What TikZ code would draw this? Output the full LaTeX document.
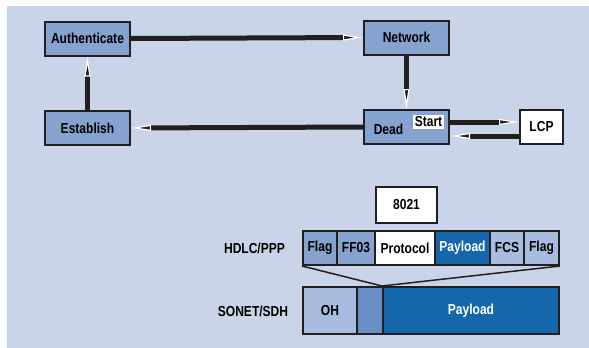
\documentclass[tikz,border=0pt]{standalone}
\usepackage{fontspec}
\setmainfont{Liberation Sans}[FakeStretch=0.83]
\usepackage{xcolor}
\usetikzlibrary{arrows.meta}

\definecolor{bgblue}{HTML}{C9D4E8}
\definecolor{boxblue}{HTML}{86A2CE}
\definecolor{lightblue}{HTML}{A8BCE0}
\definecolor{midblue}{HTML}{6A8EC6}
\definecolor{darkblue}{HTML}{1467AA}
\definecolor{ink}{HTML}{231F20}

\begin{document}
\begin{tikzpicture}[x=1pt,y=-1pt,
    font=\fontsize{14.5}{16}\selectfont\bfseries,
    state/.style={draw=ink, line width=2pt, fill=boxblue, minimum height=34pt, inner sep=0pt},
    cell/.style={draw=ink, line width=2pt, minimum height=34pt, inner sep=0pt},
    flow/.style={draw=ink, line width=5pt,
        -{Triangle[length=20pt,width=6pt,color=white,fill=ink,line width=1.2pt]}}]
    \useasboundingbox (0,0) rectangle (589,348);
    \fill[bgblue] (7,6) rectangle (589,348);

        % state machine
        \node [state, minimum width=85pt] (auth) at (87.5,38.5) {Authenticate};
        \node [state, minimum width=85pt] (est) at (87.5,128) {Establish};
        \node [state, minimum width=85pt] (net) at (406.5,37.5) {Network};
        \node [state, minimum width=85pt, label={[xshift=-18pt, yshift=-2pt]center:Dead}] (dead) at (406.5,127) {};
        \node [state, fill=white, minimum width=43pt] (lcp) at (541.5,127) {LCP};
        \node [fill=white, inner sep=1.5pt] (start) at (428.5,122) {Start};
        \draw [flow] (auth.east) -- (net.west);
        \draw [flow] (net.south) -- (dead.north);
        \draw [flow] (dead.west) -- (est.east);
        \draw [flow] (est.north) -- (auth.south);
        \draw [flow] ([yshift=5pt]dead.east) -- ([yshift=5pt]lcp.west);
        \draw [flow] ([yshift=-9pt]lcp.west) -- ([yshift=-9pt]dead.east);

        % frames
        \node [cell, fill=white, minimum width=61pt, minimum height=36pt] (proto) at (406.5,205) {8021};
        \node (hdlc) at (254.5,248) {HDLC/PPP};
        \node (sonet) at (253,311) {SONET/SDH};
        \node [cell, fill=boxblue, minimum width=34pt] (flag1) at (320,248) {Flag};
        \node [cell, fill=boxblue, minimum width=38pt] (ff03) at (356,248) {FF03};
        \node [cell, fill=white, minimum width=60pt] (prot) at (405,248) {Protocol};
        \node [cell, fill=darkblue, text=white, minimum width=55pt] (hpay) at (462.5,248) {Payload};
        \node [cell, fill=lightblue, minimum width=34pt] (fcs) at (507,248) {FCS};
        \node [cell, fill=lightblue, minimum width=35pt] (flag2) at (541.5,248) {Flag};
        \node [cell, fill=lightblue, minimum width=54pt, minimum height=47pt] (oh) at (330,310.5) {OH};
        \node [cell, fill=midblue, minimum width=26pt, minimum height=47pt] (ptr) at (370,310.5) {};
        \node [cell, fill=darkblue, text=white, minimum width=176pt, minimum height=47pt] (spay) at (471,310.5) {Payload};
        \draw [ink, line width=1.5pt] (flag1.south west) -- (spay.north west);
        \draw [ink, line width=1.5pt] (flag2.south east) -- (spay.north west);
\end{tikzpicture}
\end{document}
